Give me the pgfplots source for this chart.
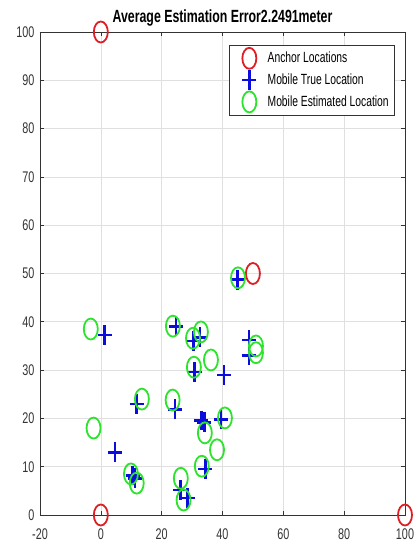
\documentclass[border=0pt]{standalone}
\usepackage{fontspec}
\setmainfont{Liberation Sans}[FakeStretch=0.7]
\usepackage{pgfplots}
\pgfplotsset{compat=1.18}
\definecolor{anc}{RGB}{222,30,36}
\definecolor{tru}{RGB}{12,12,222}
\definecolor{est}{RGB}{45,228,45}
\pgfplotsset{mylegend/.style={legend image code/.code={%
  \path (0bp,0bp) (32bp,0bp);
  \draw[mark repeat=2, mark phase=2, ##1] plot coordinates {(0bp,0bp) (16bp,0bp) (32bp,0bp)};}}}
\begin{document}
\begin{tikzpicture}
\begin{axis}[
  scale only axis, width=365bp, height=483bp,
  xmin=-20, xmax=100, ymin=0, ymax=100,
  xtick={-20,0,20,40,60,80,100},
  xticklabels={-20,0,20,40,60,80,100},
  ytick={0,10,20,30,40,50,60,70,80,90,100},
  yticklabels={0,10,20,30,40,50,60,70,80,90,100},
  grid=major, grid style={black!12, line width=0.6bp},
  tick align=inside, major tick length=4bp,
  every tick/.style={black!80, line width=0.6bp},
  axis line style={black!80, line width=0.7bp},
  tick label style={font=\fontsize{15.5}{15.5}\selectfont, text=black!80},
  xticklabel style={yshift=-10bp},
  yticklabel style={xshift=-2bp},
  title={\bfseries Average Estimation Error2.2491meter},
  title style={font=\fontsize{17.7}{17.7}\selectfont, at={(0.5,1)}, anchor=base, yshift=4bp},
  legend style={at={(1,1)}, anchor=north east, xshift=-10bp, yshift=-13bp,
    font=\fontsize{14.8}{14.8}\selectfont, draw=black!80, line width=0.6bp,
    row sep=1.5bp, inner xsep=4bp, inner ysep=2.5bp},
  legend cell align=left,
  clip=false,
]
\addplot[only marks, mylegend, mark=o, mark size=7bp, mark options={draw=anc, line width=1.8bp, yscale=1.5}]
  coordinates {(0,100) (0,0) (100,0) (50,50)};
\addlegendentry{Anchor Locations}
\addplot[only marks, mylegend, mark=+, mark size=7bp, mark options={draw=tru, line width=2.6bp, yscale=1.4}]
  coordinates {
  (45,48.7) (1.3,37.3) (24.7,39) (30.4,36.0) (32.6,36.8) (30.8,29.6) (40.5,29.0)
  (48.7,36.2) (48.7,33.0) (11.8,23.0) (24.4,21.9) (33.0,19.6) (34.0,19.2)
  (39.5,19.8) (4.6,13.0) (34.4,9.5) (10.5,8.2) (11.2,7.6) (26.1,5.2) (28.5,3.5)};
\addlegendentry{Mobile True Location}
\addplot[only marks, mylegend, mark=o, mark size=7bp, mark options={draw=est, line width=1.8bp, yscale=1.5}]
  coordinates {
  (45.1,49.1) (-3.3,38.5) (23.7,39.1) (30.3,36.6) (32.9,37.9) (30.6,30.6) (36.2,32.1)
  (51.0,35.0) (51.0,33.6) (13.5,24.0) (23.6,23.8) (34.2,17.0) (40.8,20.1)
  (-2.4,18.0) (38.2,13.5) (33.2,10.1) (9.9,8.5) (11.8,6.6) (26.3,7.6) (27.2,3.1)};
\addlegendentry{Mobile Estimated Location}
\end{axis}
\useasboundingbox ([shift={(-40bp,-31bp)}]current axis.south west) rectangle ([shift={(11bp,32bp)}]current axis.north east);
\end{tikzpicture}
\end{document}
